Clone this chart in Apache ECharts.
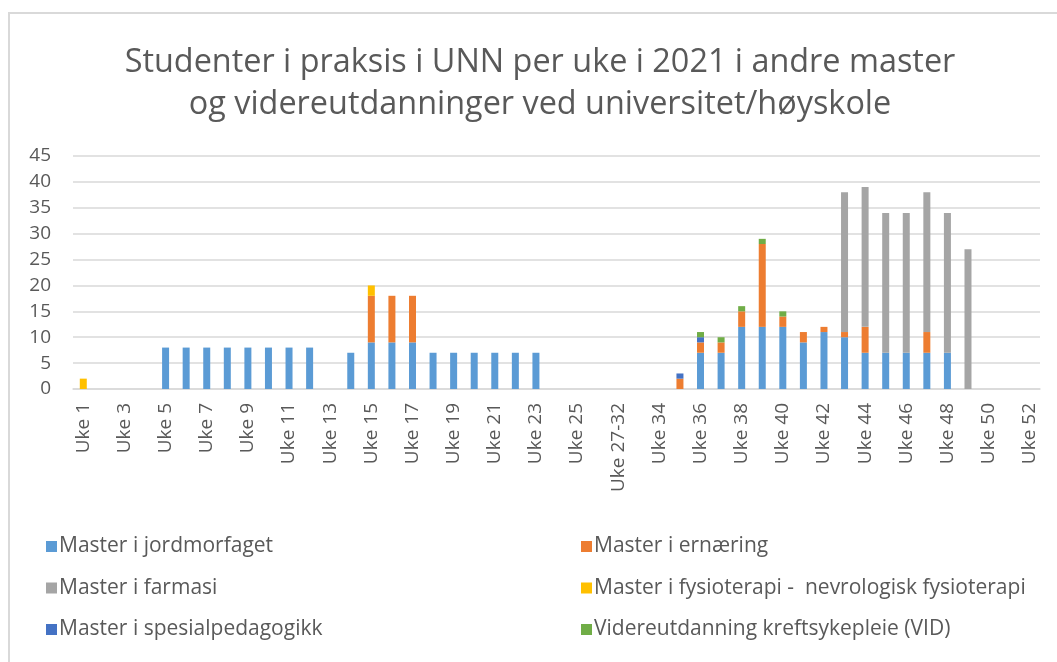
<!DOCTYPE html>
<html lang="no">
<head>
    <meta charset="UTF-8">
    <title>Studenter i praksis</title>
    <script src="https://cdn.jsdelivr.net/npm/echarts@6/dist/echarts.min.js"></script>
    <style>
        body{margin:0;background:#fff;}
        #main{position:absolute;left:0;top:0;width:1057px;height:662px;}
        .ramme{position:absolute;left:8px;top:12px;width:1100px;height:700px;
            border-left:2px solid #d9d9d9;border-top:2px solid #d9d9d9;pointer-events:none;}
    </style>
</head>
<body>
<div class="ramme"></div>
<div id="main"></div>
<script>
    // uker (uke 27-32 slått sammen)
    var uker = ['Uke 1','Uke 2','Uke 3','Uke 4','Uke 5','Uke 6','Uke 7','Uke 8','Uke 9','Uke 10',
        'Uke 11','Uke 12','Uke 13','Uke 14','Uke 15','Uke 16','Uke 17','Uke 18','Uke 19','Uke 20',
        'Uke 21','Uke 22','Uke 23','Uke 24','Uke 25','Uke 26','Uke 27-32','Uke 33','Uke 34','Uke 35',
        'Uke 36','Uke 37','Uke 38','Uke 39','Uke 40','Uke 41','Uke 42','Uke 43','Uke 44','Uke 45',
        'Uke 46','Uke 47','Uke 48','Uke 49','Uke 50','Uke 51','Uke 52'];

    var jordmor = [0,0,0,0,8,8,8,8,8,8, 8,8,0,7,9,9,9,7,7,7, 7,7,7,0,0,0,0,0,0,0, 7,7,12,12,12,9,11,10,7,7, 7,7,7,0,0,0,0];
    var ernaering = [0,0,0,0,0,0,0,0,0,0, 0,0,0,0,9,9,9,0,0,0, 0,0,0,0,0,0,0,0,0,2, 2,2,3,16,2,2,1,1,5,0, 0,4,0,0,0,0,0];
    var farmasi = [0,0,0,0,0,0,0,0,0,0, 0,0,0,0,0,0,0,0,0,0, 0,0,0,0,0,0,0,0,0,0, 0,0,0,0,0,0,0,27,27,27, 27,27,27,27,0,0,0];
    var fysio = [2,0,0,0,0,0,0,0,0,0, 0,0,0,0,2,0,0,0,0,0, 0,0,0,0,0,0,0,0,0,0, 0,0,0,0,0,0,0,0,0,0, 0,0,0,0,0,0,0];
    var spesial = [0,0,0,0,0,0,0,0,0,0, 0,0,0,0,0,0,0,0,0,0, 0,0,0,0,0,0,0,0,0,1, 1,0,0,0,0,0,0,0,0,0, 0,0,0,0,0,0,0];
    var vid = [0,0,0,0,0,0,0,0,0,0, 0,0,0,0,0,0,0,0,0,0, 0,0,0,0,0,0,0,0,0,0, 1,1,1,1,1,0,0,0,0,0, 0,0,0,0,0,0,0];

    var navn = ['Master i jordmorfaget','Master i ernæring','Master i farmasi',
        'Master i fysioterapi -  nevrologisk fysioterapi','Master i spesialpedagogikk',
        'Videreutdanning kreftsykepleie (VID)'];
    var farger = ['#5b9bd5','#ed7d31','#a5a5a5','#ffc000','#4472c4','#70ad47'];
    var serier = [jordmor, ernaering, farmasi, fysio, spesial, vid];

    var font = '"Open Sans", sans-serif';
    var myChart = echarts.init(document.getElementById('main'));

    var legendStil = {
        orient: 'vertical',
        top: 531,
        itemWidth: 11,
        itemHeight: 11,
        itemGap: 20.5,
        icon: 'rect',
        textStyle: {fontFamily: font, fontSize: 21, color: '#595959', padding: [0,0,0,-3]}
    };

    var option = {
        animation: false,
        color: farger,
        title: {
            text: 'Studenter i praksis i UNN per uke i 2021 i andre master\nog videreutdanninger ved universitet/høyskole',
            left: 535,
            textAlign: 'center',
            top: 37,
            textStyle: {fontFamily: font, fontSize: 32.4, fontWeight: 'normal', color: '#595959', lineHeight: 42}
        },
        legend: [
            Object.assign({left: 41, data: [navn[0], navn[2], navn[4]]}, legendStil),
            Object.assign({left: 576, data: [navn[1], navn[3], navn[5]]}, legendStil)
        ],
        grid: {left: 73, right: 17, top: 156, bottom: 273, containLabel: false},
        xAxis: {
            type: 'category',
            data: uker,
            axisLine: {lineStyle: {color: '#d9d9d9', width: 1.5}},
            axisTick: {show: false},
            axisLabel: {
                rotate: 90, interval: 1, margin: 14,
                fontFamily: font, fontSize: 19, color: '#595959'
            }
        },
        yAxis: {
            type: 'value',
            min: 0, max: 45, interval: 5,
            axisLine: {show: false},
            axisTick: {show: false},
            splitLine: {lineStyle: {color: '#d9d9d9', width: 1.5}},
            axisLabel: {margin: 22, fontFamily: font, fontSize: 19, color: '#595959'}
        },
        series: serier.map(function (d, i) {
            return {
                name: navn[i],
                type: 'bar',
                stack: 'sum',
                barWidth: 7,
                data: d
            };
        })
    };

    myChart.setOption(option, true);
</script>
</body>
</html>
